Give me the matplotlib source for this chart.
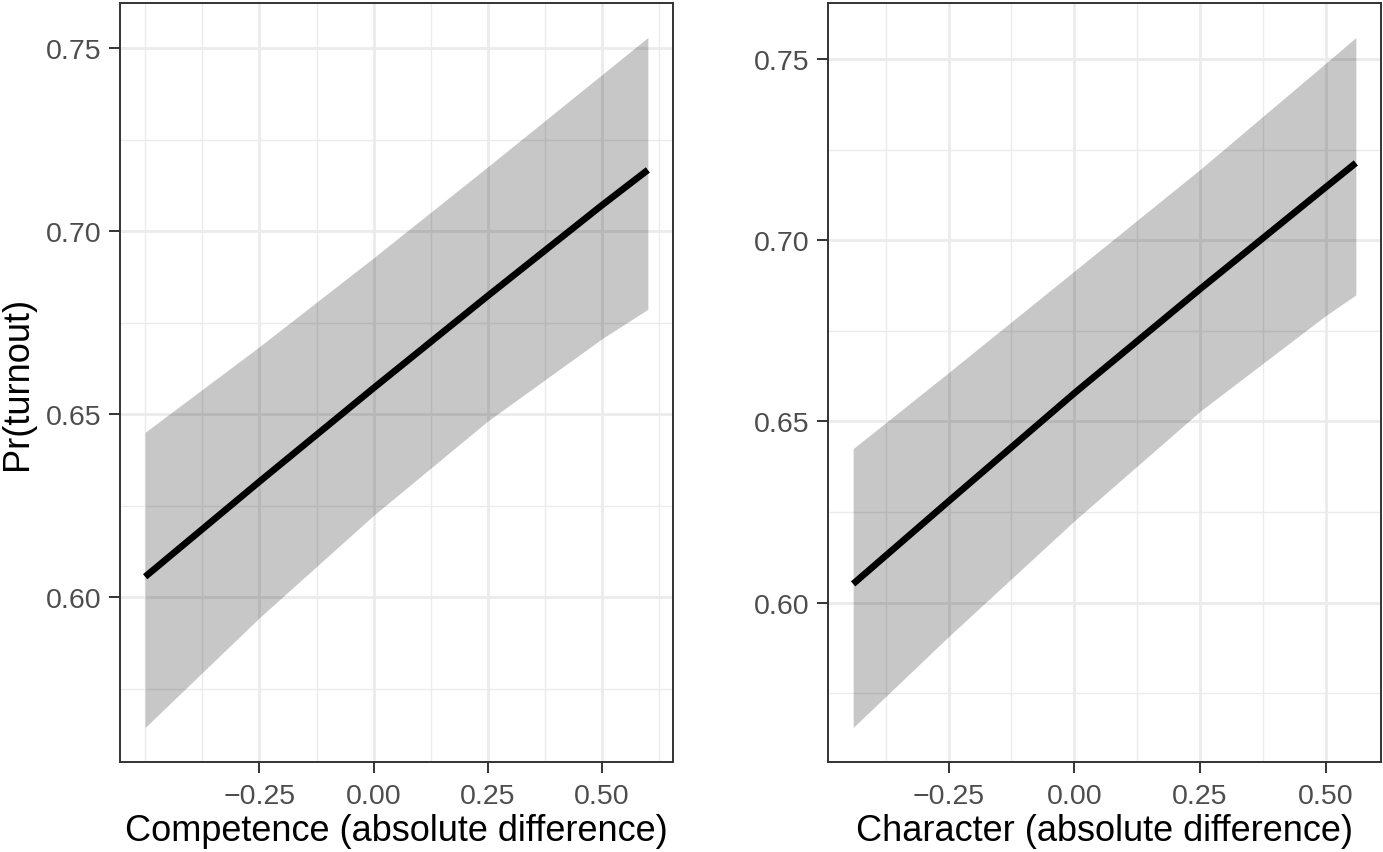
import numpy as np
import matplotlib.pyplot as plt
from matplotlib.ticker import MultipleLocator, FixedLocator, FuncFormatter

plt.rcParams['font.family'] = ['Liberation Sans', 'DejaVu Sans']

# predicted turnout
comp_x = [-0.5, -0.25, 0.0, 0.25, 0.5, 0.6]
comp_fit = [0.6056, 0.6316, 0.6572, 0.6824, 0.7072, 0.7168]
comp_lo = [0.5644, 0.5944, 0.6224, 0.6482, 0.6707, 0.6787]
comp_hi = [0.6451, 0.6685, 0.6928, 0.7177, 0.7429, 0.7530]

char_x = [-0.44, -0.25, 0.0, 0.25, 0.5, 0.56]
char_fit = [0.6052, 0.6280, 0.6578, 0.6865, 0.7146, 0.7213]
char_lo = [0.5656, 0.5907, 0.6226, 0.6528, 0.6792, 0.6849]
char_hi = [0.6425, 0.6635, 0.6915, 0.7195, 0.7488, 0.7559]

x_breaks = [-0.25, 0.0, 0.25, 0.5]
x_labels = ["Competence (absolute difference)", "Character (absolute difference)"]
y_label = "Pr(turnout)"


def fmt(v, pos):
    s = "%.2f" % v
    if s == "-0.00":
        s = "0.00"
    return s.replace("-", "\u2212")


fig = plt.figure(figsize=(13.83, 8.53), dpi=100)
ax1 = fig.add_axes([120 / 1383, 1 - 763 / 853, 553 / 1383, 759 / 853])
ax2 = fig.add_axes([828 / 1383, 1 - 763 / 853, 553 / 1383, 759 / 853])

panels = [(ax1, comp_x, comp_fit, comp_lo, comp_hi),
          (ax2, char_x, char_fit, char_lo, char_hi)]

for i, (ax, x, fit, lo, hi) in enumerate(panels):
    ax.fill_between(x, lo, hi, color="black", alpha=0.22, linewidth=0, zorder=2)
    ax.plot(x, fit, color="black", linewidth=4.8, solid_capstyle="butt",
            solid_joinstyle="round", zorder=3)
    ax.margins(x=0.05, y=0.05)

    ax.xaxis.set_major_locator(FixedLocator(x_breaks))
    ax.xaxis.set_minor_locator(MultipleLocator(0.125))
    ax.yaxis.set_major_locator(MultipleLocator(0.05))
    ax.yaxis.set_minor_locator(MultipleLocator(0.025))
    ax.xaxis.set_major_formatter(FuncFormatter(fmt))
    ax.yaxis.set_major_formatter(FuncFormatter(fmt))

    ax.set_axisbelow(True)
    ax.grid(which="major", color="#EBEBEB", linewidth=2.0, zorder=0)
    ax.grid(which="minor", color="#EBEBEB", linewidth=1.0, zorder=0)

    ax.tick_params(which="major", length=8, width=1.4, color="#333333",
                   labelsize=20.5, labelcolor="#4D4D4D", pad=5)
    ax.tick_params(axis="x", which="major", pad=7)
    ax.tick_params(which="minor", length=0)
    for sp in ax.spines.values():
        sp.set_color("#333333")
        sp.set_linewidth(1.4)

    ax.set_xlabel(x_labels[i], fontsize=26, color="black", labelpad=3)

ax1.set_ylabel(y_label, fontsize=26, color="black", labelpad=8)

fig.savefig("out.png", dpi=100, facecolor="white")
